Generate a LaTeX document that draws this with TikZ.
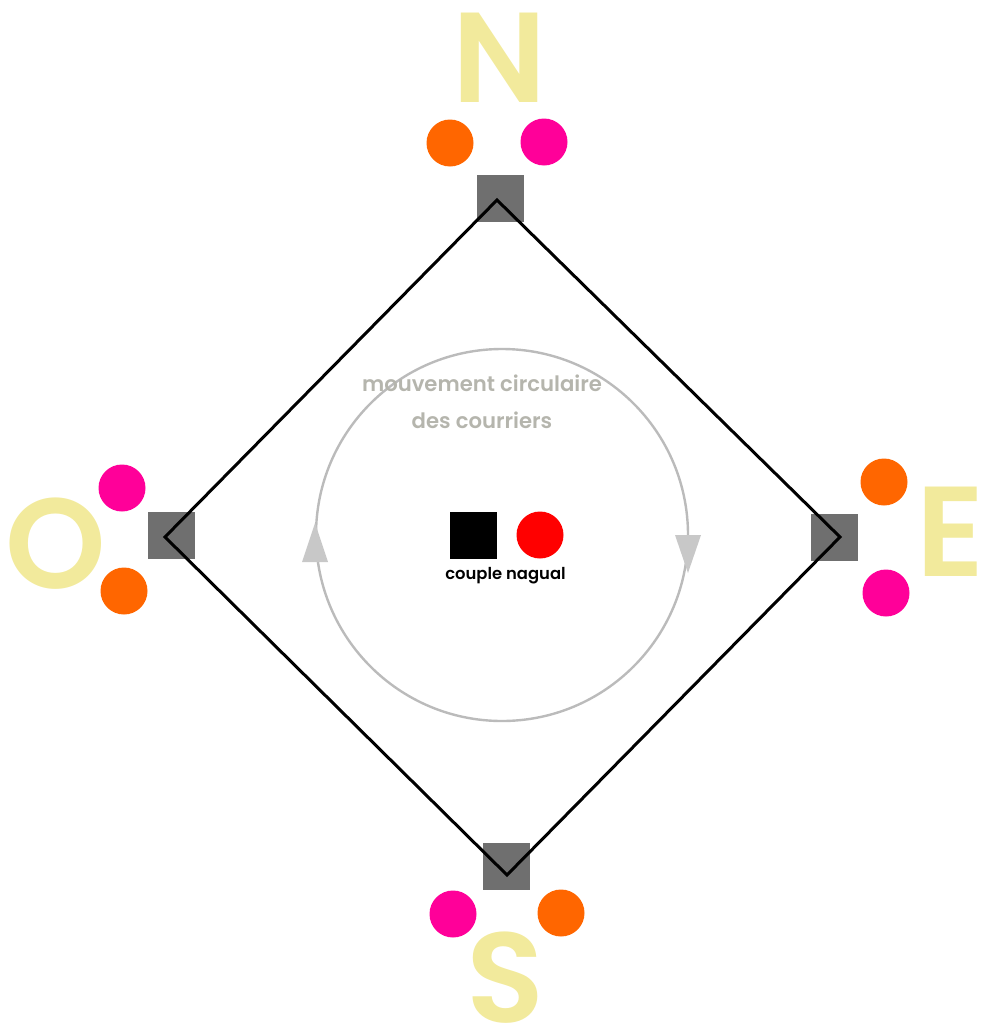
\documentclass[tikz,border=0pt]{standalone}
\usepackage{xcolor}
\usepackage{fontspec}
\setmainfont{Poppins}[BoldFont={Poppins SemiBold}]
\usepackage{tikz}

\definecolor{sable}{HTML}{F2EA9C}
\definecolor{orangec}{HTML}{FF6600}
\definecolor{magentac}{HTML}{FF0099}
\definecolor{postgris}{HTML}{6F6F6F}
\definecolor{tracegris}{HTML}{BBBBBB}
\definecolor{textgris}{HTML}{B5B5AD}
\definecolor{flechegris}{HTML}{C8C8C8}

\tikzset{
  poste/.style={rectangle, fill=postgris, minimum size=23.5pt, inner sep=0pt},
  courrier/.style={circle, inner sep=0pt, minimum size=23.5pt},
  cardinal/.style={font=\bfseries\fontsize{64}{64}\selectfont, text=sable, inner sep=0pt},
}

\begin{document}
\begin{tikzpicture}[x=0.5pt,y=-0.5pt]
  \useasboundingbox (0,0) rectangle (987,1028) ;
  %
  \node[cardinal] (nord) at (499.5,57.5) {N} ;
  \node[cardinal] (ouest) at (56,544) {O} ;
  \node[cardinal,anchor=west] (est) at (916,532) {E} ;
  \node[cardinal] (sud) at (505,978) {S} ;
  %
  \node[poste] (pn) at (500,198) {} ;
  \node[poste] (po) at (171,535) {} ;
  \node[poste] (pe) at (834,537) {} ;
  \node[poste] (ps) at (506,866) {} ;
  %
  \node[courrier,fill=orangec] (n1) at (450,143) {} ;
  \node[courrier,fill=magentac] (n2) at (544,142) {} ;
  \node[courrier,fill=magentac] (o1) at (122,488) {} ;
  \node[courrier,fill=orangec] (o2) at (124,591) {} ;
  \node[courrier,fill=orangec] (e1) at (884,482) {} ;
  \node[courrier,fill=magentac] (e2) at (886,593) {} ;
  \node[courrier,fill=magentac] (s1) at (453,914) {} ;
  \node[courrier,fill=orangec] (s2) at (561,913) {} ;
  %
  \coordinate (vn) at (497,200) ;
  \coordinate (ve) at (840,537) ;
  \coordinate (vs) at (507,875) ;
  \coordinate (vo) at (165,537) ;
  \draw[line width=1.5pt,line join=miter] (vn) -- (ve) -- (vs) -- (vo) -- cycle ;
  %
  \coordinate (centre) at (502,535) ;
  \draw[tracegris,line width=1.2pt] (centre) circle (186) ;
  \fill[flechegris] (302,562) -- (328,562) -- (315,523) -- cycle ;
  \fill[flechegris] (675,535) -- (701,535) -- (688,573) -- cycle ;
  %
  \node[font=\bfseries\fontsize{10.6}{10.6}\selectfont, text=textgris] (mouv) at (482,383) {mouvement circulaire} ;
  \node[font=\bfseries\fontsize{10.6}{10.6}\selectfont, text=textgris] (cour) at (482,420) {des courriers} ;
  %
  \node[rectangle, fill=black, minimum size=23.5pt, inner sep=0pt] (nagual) at (473.5,535.5) {} ;
  \node[courrier, fill=red] (naguale) at (540,535) {} ;
  \node[font=\bfseries\fontsize{8.2}{8.2}\selectfont] (couple) at (505.5,576) {couple nagual} ;
\end{tikzpicture}
\end{document}
